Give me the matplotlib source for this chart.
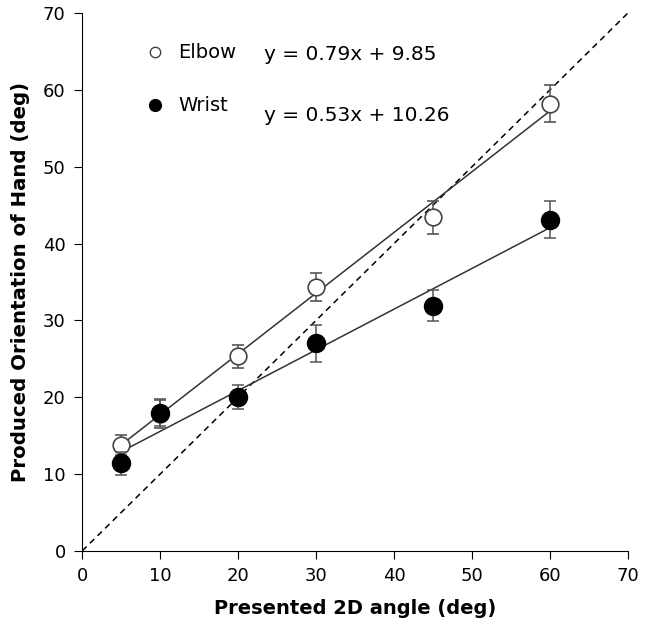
import numpy as np
import matplotlib.pyplot as plt
from matplotlib.lines import Line2D

angles = [5, 10, 20, 30, 45, 60]
elbow = [13.8, 17.8, 25.3, 34.3, 43.4, 58.2]
elbow_err = [1.3, 1.8, 1.5, 1.8, 2.1, 2.4]
wrist = [11.4, 18.0, 20.0, 27.0, 31.9, 43.1]
wrist_err = [1.5, 1.8, 1.6, 2.4, 2.0, 2.4]

elbow_fit = (0.79, 9.85)
wrist_fit = (0.53, 10.26)

plt.rcParams['font.family'] = ['Verdana', 'DejaVu Sans']

fig = plt.figure(figsize=(6.48, 6.21), dpi=100)
ax = fig.add_axes([0.127, 0.113, 0.842, 0.866])

# identity line
ax.plot([0, 70], [0, 70], ls=(0, (4, 3)), color='black', lw=1.1)

xs = np.array([angles[0], angles[-1]])
ax.plot(xs, elbow_fit[0] * xs + elbow_fit[1], color='#333333', lw=1.1)
ax.plot(xs, wrist_fit[0] * xs + wrist_fit[1], color='#333333', lw=1.1)

ax.errorbar(angles, elbow, yerr=elbow_err, fmt='o', ms=12, mfc='white',
            mec='#444444', mew=1.2, ecolor='#555555', elinewidth=1.1,
            capsize=4, capthick=1.1, zorder=3)
ax.errorbar(angles, wrist, yerr=wrist_err, fmt='o', ms=13, mfc='black',
            mec='black', ecolor='#555555', elinewidth=1.1,
            capsize=4, capthick=1.1, zorder=4)

handles = [Line2D([], [], ls='', marker='o', ms=7.5, mfc='white', mec='#444444'),
           Line2D([], [], ls='', marker='o', ms=8.5, mfc='black', mec='black')]
ax.legend(handles, ['Elbow', 'Wrist'], loc='upper left', bbox_to_anchor=(0.083, 0.976),
          frameon=False, fontsize=14, labelspacing=1.75, handletextpad=0.7,
          handlelength=1.0)

ax.text(23.3, 64.6, 'y = %.2fx + %.2f' % elbow_fit, fontsize=14.5, va='center')
ax.text(23.3, 56.7, 'y = %.2fx + %.2f' % wrist_fit, fontsize=14.5, va='center')

ax.set_xlim(0, 70)
ax.set_ylim(0, 70)
ax.set_xticks(range(0, 71, 10))
ax.set_yticks(range(0, 71, 10))
ax.spines['top'].set_visible(False)
ax.spines['right'].set_visible(False)
ax.tick_params(direction='out', length=6, labelsize=13, pad=6)
ax.set_xlabel('Presented 2D angle (deg)', fontsize=14, fontweight='bold', labelpad=10)
ax.set_ylabel('Produced Orientation of Hand (deg)', fontsize=14.2, fontweight='bold', labelpad=9)

fig.savefig('out.png', dpi=100)
